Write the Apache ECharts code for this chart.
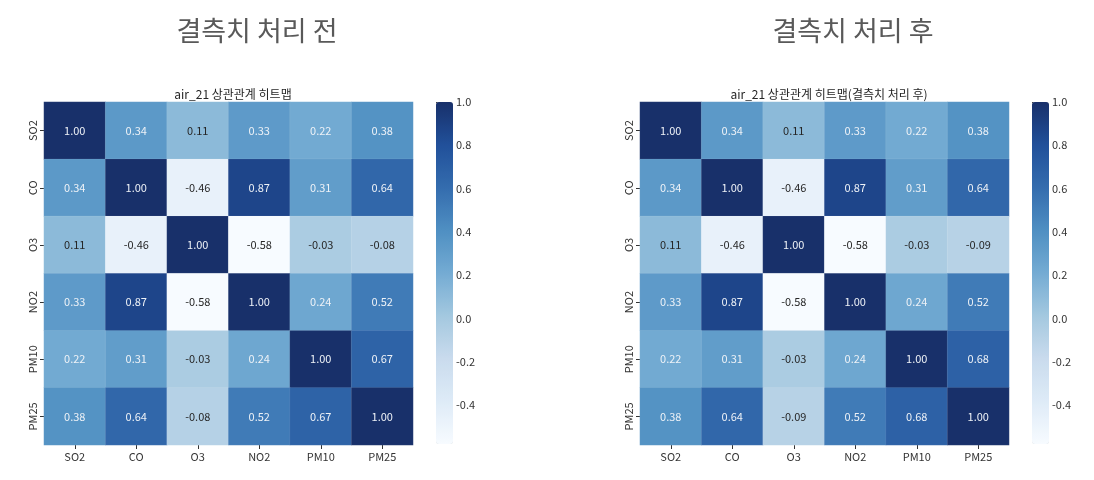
<html>
<head>
  <meta charset="utf-8">
  <title>결측치 처리 전 / 후</title>
  <script src="https://cdn.jsdelivr.net/npm/echarts@6/dist/echarts.min.js"></script>
  <style>
    body { margin: 0; background: #fff; }
  </style>
</head>
<body>
  <div id="main" style="width: 1094px;height:480px;"></div>
  <script type="text/javascript">
    // 변수 목록
    var categories = ['SO2', 'CO', 'O3', 'NO2', 'PM10', 'PM25'];
    // 결측치 처리 전 상관계수 (행 = y, 열 = x)
    var corrBefore = [
      [1.00, 0.34, 0.11, 0.33, 0.22, 0.38],
      [0.34, 1.00, -0.46, 0.87, 0.31, 0.64],
      [0.11, -0.46, 1.00, -0.58, -0.03, -0.08],
      [0.33, 0.87, -0.58, 1.00, 0.24, 0.52],
      [0.22, 0.31, -0.03, 0.24, 1.00, 0.67],
      [0.38, 0.64, -0.08, 0.52, 0.67, 1.00]
    ];
    // 결측치 처리 후 상관계수
    var corrAfter = [
      [1.00, 0.34, 0.11, 0.33, 0.22, 0.38],
      [0.34, 1.00, -0.46, 0.87, 0.31, 0.64],
      [0.11, -0.46, 1.00, -0.58, -0.03, -0.09],
      [0.33, 0.87, -0.58, 1.00, 0.24, 0.52],
      [0.22, 0.31, -0.03, 0.24, 1.00, 0.68],
      [0.38, 0.64, -0.09, 0.52, 0.68, 1.00]
    ];
    var colorbarTicks = [-0.4, -0.2, 0.0, 0.2, 0.4, 0.6, 0.8, 1.0];
    var vMin = -0.58, vMax = 1.0;

    // Blues (조금 탁하게)
    var blues = ['#f7fbff', '#deebf7', '#c9dbed', '#a3c8df', '#74abd3',
                 '#4f8fc2', '#346cae', '#21509a', '#18306a'];
    var font = '"Noto Sans CJK KR", "Noto Sans", sans-serif';

    function toHeat(matrix) {
      var out = [];
      for (var r = 0; r < matrix.length; r++) {
        for (var c = 0; c < matrix[r].length; c++) {
          var v = matrix[r][c];
          out.push({
            value: [c, r, v],
            label: { color: v > 0.15 ? '#eef2f7' : '#262626' }
          });
        }
      }
      return out;
    }

    var panels = [
      { grid: { left: 44, top: 102, width: 369, height: 343 },
        bar: { left: 436, top: 102 },
        data: corrBefore },
      { grid: { left: 640, top: 102, width: 369, height: 343 },
        bar: { left: 1032, top: 102 },
        data: corrAfter }
    ];

    var grids = [], xAxes = [], yAxes = [], series = [], visualMaps = [];
    panels.forEach(function (p, i) {
      grids.push(p.grid);
      grids.push({ left: p.bar.left, top: p.bar.top, width: 17, height: 342 });
      xAxes.push({
        type: 'category', data: categories, gridIndex: i * 2,
        axisLine: { show: false },
        axisTick: { show: true, alignWithLabel: true, length: 4, lineStyle: { color: '#333' } },
        axisLabel: { color: '#333', fontSize: 11, fontFamily: font, margin: 6 },
        splitArea: { show: false }
      });
      yAxes.push({
        type: 'category', data: categories, gridIndex: i * 2, inverse: true,
        axisLine: { show: false },
        axisTick: { show: true, alignWithLabel: true, length: 4, lineStyle: { color: '#333' } },
        axisLabel: { color: '#333', fontSize: 11, fontFamily: font, rotate: 90, margin: 6 },
        splitArea: { show: false }
      });
      // colorbar axis
      xAxes.push({ type: 'value', gridIndex: i * 2 + 1, show: false });
      yAxes.push({
        type: 'value', gridIndex: i * 2 + 1, position: 'right',
        min: vMin, max: vMax,
        axisLine: { show: false },
        splitLine: { show: false },
        axisTick: { show: true, length: 4, lineStyle: { color: '#333' }, customValues: colorbarTicks },
        axisLabel: {
          color: '#333', fontSize: 11, fontFamily: font, margin: 3,
          customValues: colorbarTicks,
          formatter: function (v) { return v.toFixed(1); }
        }
      });
      series.push({
        type: 'heatmap',
        xAxisIndex: i * 2, yAxisIndex: i * 2,
        data: toHeat(p.data),
        label: {
          show: true, fontSize: 11, fontFamily: font,
          formatter: function (d) { return d.value[2].toFixed(2); }
        },
        itemStyle: { borderColor: 'rgba(255,255,255,0.15)', borderWidth: 0.5 },
        emphasis: { disabled: true }
      });
      visualMaps.push({
        type: 'continuous',
        seriesIndex: i,
        min: vMin, max: vMax,
        calculable: false,
        showLabel: false,
        text: null,
        padding: 0,
        left: p.bar.left, top: p.bar.top,
        itemWidth: 17, itemHeight: 342,
        inRange: { color: blues }
      });
    });

    var myChart = echarts.init(document.getElementById('main'));
    myChart.setOption({
      animation: false,
      title: [
        { text: '결측치 처리 전', left: 252, top: 12, textAlign: 'center',
          textStyle: { fontSize: 27, fontWeight: 'normal', color: '#595959', fontFamily: font } },
        { text: '결측치 처리 후', left: 848, top: 12, textAlign: 'center',
          textStyle: { fontSize: 27, fontWeight: 'normal', color: '#595959', fontFamily: font } },
        { text: 'air_21 상관관계 히트맵', left: 228, top: 83, textAlign: 'center',
          textStyle: { fontSize: 12, fontWeight: 'normal', color: '#262626', fontFamily: font } },
        { text: 'air_21 상관관계 히트맵(결측치 처리 후)', left: 824, top: 83, textAlign: 'center',
          textStyle: { fontSize: 12, fontWeight: 'normal', color: '#262626', fontFamily: font } }
      ],
      grid: grids,
      xAxis: xAxes,
      yAxis: yAxes,
      visualMap: visualMaps,
      series: series
    });
  </script>
</body>
</html>
